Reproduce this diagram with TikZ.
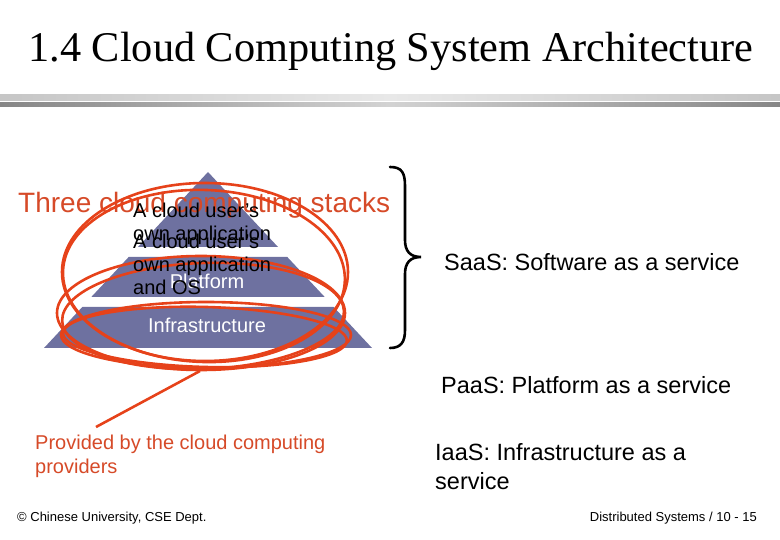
\documentclass[tikz,border=0pt]{standalone}
\usepackage{fontspec}
\setmainfont{Liberation Sans}
\newfontfamily\titlefont{Liberation Serif}
\definecolor{pyr}{RGB}{110,113,160}
\definecolor{mark}{RGB}{230,66,26}
\definecolor{marktext}{RGB}{214,74,40}
\tikzset{
  layer/.style={fill=pyr, draw=none},
  inlabel/.style={text=white, font=\fontsize{20}{23}\selectfont, inner sep=0pt},
  blacklabel/.style={text=black, font=\fontsize{20}{23}\selectfont, inner sep=0pt, anchor=west, align=left},
  service/.style={text=black, font=\fontsize{23.5}{29}\selectfont, inner sep=0pt, anchor=west, align=left},
  footer/.style={text=black, font=\fontsize{13}{15}\selectfont, inner sep=0pt},
  ring/.style={draw=mark, line width=2.6pt},
}
\begin{document}
\begin{tikzpicture}[x=1pt, y=-1pt]
\useasboundingbox (0,0) rectangle (780,540);
% title
\node[font=\titlefont\fontsize{42.3}{48}\selectfont, inner sep=0pt] (title) at (391,51) {1.4 Cloud Computing System Architecture};
% bars
\shade[left color=gray!45, right color=gray!45, middle color=gray!18] (0,95) rectangle (780,101);
\shade[left color=gray!95!white, right color=gray!95!white, middle color=gray!35] (0,103) rectangle (780,107);
% pyramid
\fill[layer] (208,172) -- (278,247) -- (138,247) -- cycle;
\fill[layer] (128.7,257) -- (287.3,257) -- (324.7,297) -- (91.3,297) -- cycle;
\fill[layer] (82.3,307) -- (333.7,307) -- (372,348) -- (44,348) -- cycle;
% red heading
\node[text=marktext, font=\fontsize{28}{32}\selectfont, inner sep=0pt, anchor=west] (stacks) at (18,205) {Three cloud computing stacks};
\node[inlabel] (plat) at (207,281) {Platform};
\node[inlabel] (infra) at (207,325) {Infrastructure};
% rings
\draw[ring] (205,272) ellipse [x radius=143pt, y radius=89pt];
\draw[ring, rotate around={-2:(205,274)}] (204,276) ellipse [x radius=141pt, y radius=86pt];
\draw[ring] (201,313) ellipse [x radius=144pt, y radius=57pt];
\draw[ring, rotate around={2:(203,314)}] (203,316) ellipse [x radius=141pt, y radius=53pt];
\draw[ring] (206,335) ellipse [x radius=145pt, y radius=33pt];
\draw[ring, rotate around={-1.5:(206,336)}] (205,337) ellipse [x radius=142pt, y radius=30pt];
\coordinate (tailA) at (200,371);
\coordinate (tailB) at (96,427);
\draw[ring] (tailA) -- (tailB);
% black labels
\node[blacklabel] (app1) at (133,224) {A cloud user's\\own application};
\node[blacklabel] (app2) at (133,264.5) {A cloud user's\\own application\\and OS};
% brace
\draw[line width=2.6pt, line cap=round] (390,167) .. controls (402,167) and (405,173) .. (405,186) -- (405,240) .. controls (405,251) and (410,257) .. (421,257) .. controls (410,257) and (405,263) .. (405,274) -- (405,330) .. controls (405,342) and (401,348) .. (390,348);
% service labels
\node[service] (saas) at (444,262) {SaaS: Software as a service};
\node[service] (paas) at (441,385) {PaaS: Platform as a service};
\node[service, align=left] (iaas) at (435,466.5) {IaaS: Infrastructure as a\\service};
\node[text=marktext, font=\fontsize{20}{24}\selectfont, inner sep=0pt, anchor=west, align=left] (prov) at (35,456) {Provided by the cloud computing\\providers};
% footer
\node[footer, anchor=west] (copy) at (17,518) {© Chinese University, CSE Dept.};
\node[footer, anchor=east] (pg) at (757,518) {Distributed Systems / 10 - 15};
\end{tikzpicture}
\end{document}
